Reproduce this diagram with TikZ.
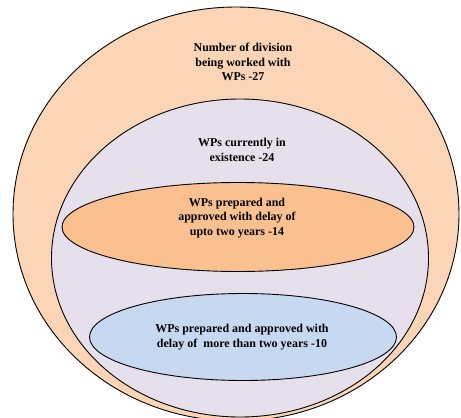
\documentclass[tikz,border=0pt]{standalone}
\usepackage{fontspec}
\setmainfont{Liberation Serif}
\usetikzlibrary{shapes.geometric,positioning}

\definecolor{peach}{HTML}{FBD5B5}
\definecolor{lavender}{HTML}{E5E0EC}
\definecolor{apricot}{HTML}{FAC090}
\definecolor{paleblue}{HTML}{C6D9F1}

\begin{document}
\begin{tikzpicture}[x=1pt, y=-1pt,
    ring/.style={draw, ellipse, line width=0.9pt, inner sep=0pt},
    lbl/.style={align=center, font=\fontsize{12}{14.8}\selectfont\bfseries, inner sep=1pt}
]
\useasboundingbox (0,0) rectangle (461,418);
\clip (0,0) rectangle (461,418);
\node[ring, fill=peach, minimum width=446pt, minimum height=414pt] (outer) at (236,214) {};
\node[ring, fill=lavender, minimum width=377pt, minimum height=318pt] (inner) at (240,258) {};
\node[ring, fill=apricot, minimum width=352pt, minimum height=89pt] (short) at (238,227) {};
\node[ring, fill=paleblue, minimum width=307pt, minimum height=87pt] (long) at (243,337) {};

\node[lbl] (divs) at (243,62) {Number of division\\being worked with\\WPs -27};
\node[lbl] (exist) at (242,150) {WPs currently in\\existence -24};
\node[lbl] (upto) at (237,218) {WPs prepared and\\approved with delay of\\upto two years -14};
\node[lbl] (more) at (242,337) {WPs prepared and approved with\\delay of~ more than two years -10};
\end{tikzpicture}
\end{document}
